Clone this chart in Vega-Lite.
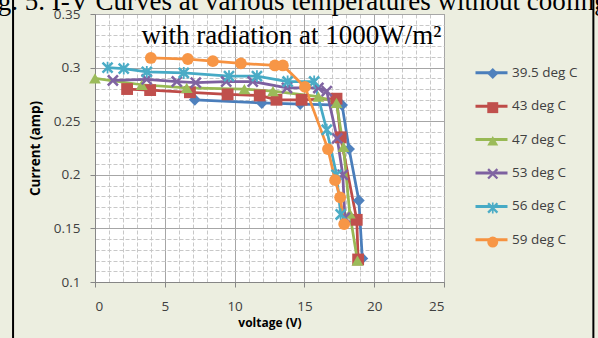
{
  "$schema": "https://vega.github.io/schema/vega-lite/v6.json",
  "width": 349,
  "height": 268,
  "autosize": {"type": "none"},
  "padding": {"left": 95, "top": 14, "right": 154, "bottom": 56},
  "background": "#ECEEE0",
  "view": {"stroke": "#8A8A8A", "fill": "white"},
  "title": {
    "text": "Fig. 5. I-V Curves at various temperatures without cooling",
    "subtitle": "with radiation at 1000W/m²",
    "font": "Liberation Serif",
    "fontSize": 27,
    "fontWeight": "normal",
    "color": "#000000",
    "subtitleFont": "Liberation Serif",
    "subtitleFontSize": 27,
    "subtitleColor": "#000000",
    "anchor": "middle",
    "dx": 22,
    "offset": -58,
    "subtitlePadding": 7
  },
  "data": {
    "values": [
      {"s": "39.5 deg C", "v": 7.15, "i": 0.270},
      {"s": "39.5 deg C", "v": 11.95, "i": 0.267},
      {"s": "39.5 deg C", "v": 14.7, "i": 0.266},
      {"s": "39.5 deg C", "v": 17.7, "i": 0.265},
      {"s": "39.5 deg C", "v": 18.2, "i": 0.224},
      {"s": "39.5 deg C", "v": 18.9, "i": 0.176},
      {"s": "39.5 deg C", "v": 19.15, "i": 0.122},
      {"s": "43 deg C", "v": 2.3, "i": 0.280},
      {"s": "43 deg C", "v": 3.95, "i": 0.279},
      {"s": "43 deg C", "v": 6.8, "i": 0.277},
      {"s": "43 deg C", "v": 9.5, "i": 0.275},
      {"s": "43 deg C", "v": 11.8, "i": 0.274},
      {"s": "43 deg C", "v": 13.0, "i": 0.270},
      {"s": "43 deg C", "v": 14.8, "i": 0.270},
      {"s": "43 deg C", "v": 17.3, "i": 0.271},
      {"s": "43 deg C", "v": 17.6, "i": 0.235},
      {"s": "43 deg C", "v": 18.75, "i": 0.158},
      {"s": "43 deg C", "v": 18.85, "i": 0.121},
      {"s": "47 deg C", "v": 0.0, "i": 0.290},
      {"s": "47 deg C", "v": 3.35, "i": 0.284},
      {"s": "47 deg C", "v": 6.57, "i": 0.281},
      {"s": "47 deg C", "v": 10.7, "i": 0.280},
      {"s": "47 deg C", "v": 12.75, "i": 0.278},
      {"s": "47 deg C", "v": 16.0, "i": 0.273},
      {"s": "47 deg C", "v": 17.3, "i": 0.267},
      {"s": "47 deg C", "v": 17.8, "i": 0.226},
      {"s": "47 deg C", "v": 18.25, "i": 0.164},
      {"s": "47 deg C", "v": 18.8, "i": 0.120},
      {"s": "53 deg C", "v": 1.28, "i": 0.288},
      {"s": "53 deg C", "v": 3.7, "i": 0.289},
      {"s": "53 deg C", "v": 5.86, "i": 0.287},
      {"s": "53 deg C", "v": 7.22, "i": 0.286},
      {"s": "53 deg C", "v": 9.4, "i": 0.287},
      {"s": "53 deg C", "v": 11.3, "i": 0.287},
      {"s": "53 deg C", "v": 13.75, "i": 0.281},
      {"s": "53 deg C", "v": 16.0, "i": 0.281},
      {"s": "53 deg C", "v": 16.6, "i": 0.278},
      {"s": "53 deg C", "v": 17.35, "i": 0.234},
      {"s": "53 deg C", "v": 17.75, "i": 0.200},
      {"s": "53 deg C", "v": 17.9, "i": 0.160},
      {"s": "56 deg C", "v": 0.9, "i": 0.300},
      {"s": "56 deg C", "v": 2.06, "i": 0.299},
      {"s": "56 deg C", "v": 3.71, "i": 0.296},
      {"s": "56 deg C", "v": 6.36, "i": 0.295},
      {"s": "56 deg C", "v": 9.6, "i": 0.292},
      {"s": "56 deg C", "v": 11.6, "i": 0.292},
      {"s": "56 deg C", "v": 13.8, "i": 0.287},
      {"s": "56 deg C", "v": 15.7, "i": 0.287},
      {"s": "56 deg C", "v": 16.6, "i": 0.242},
      {"s": "56 deg C", "v": 17.3, "i": 0.200},
      {"s": "56 deg C", "v": 17.6, "i": 0.163},
      {"s": "59 deg C", "v": 4.0, "i": 0.309},
      {"s": "59 deg C", "v": 6.65, "i": 0.308},
      {"s": "59 deg C", "v": 8.44, "i": 0.306},
      {"s": "59 deg C", "v": 10.45, "i": 0.304},
      {"s": "59 deg C", "v": 12.89, "i": 0.302},
      {"s": "59 deg C", "v": 13.46, "i": 0.302},
      {"s": "59 deg C", "v": 15.04, "i": 0.282},
      {"s": "59 deg C", "v": 16.69, "i": 0.224},
      {"s": "59 deg C", "v": 17.2, "i": 0.195},
      {"s": "59 deg C", "v": 17.56, "i": 0.179},
      {"s": "59 deg C", "v": 17.85, "i": 0.154}
    ]
  },
  "resolve": {"axis": {"x": "independent", "y": "independent"}},
  "layer": [
    {
      "mark": {"type": "line", "strokeWidth": 2.75},
      "encoding": {
        "x": {
          "field": "v", "type": "quantitative",
          "scale": {"domain": [0, 25], "nice": false, "zero": false},
          "axis": {
            "orient": "bottom",
            "values": [1,2,3,4,6,7,8,9,11,12,13,14,16,17,18,19,21,22,23,24],
            "grid": true, "gridColor": "#C8C8C8", "gridDash": [4, 2], "gridWidth": 1,
            "labels": false, "ticks": false, "domain": false, "title": null
          }
        },
        "y": {
          "field": "i", "type": "quantitative",
          "scale": {"domain": [0.1, 0.35], "nice": false, "zero": false},
          "axis": {
            "orient": "left",
            "values": [0.11,0.12,0.13,0.14,0.16,0.17,0.18,0.19,0.21,0.22,0.23,0.24,0.26,0.27,0.28,0.29,0.31,0.32,0.33,0.34],
            "grid": true, "gridColor": "#C8C8C8", "gridDash": [4, 2], "gridWidth": 1,
            "labels": false, "ticks": false, "domain": false, "title": null
          }
        },
        "color": {
          "field": "s", "type": "nominal",
          "scale": {"range": ["#4A7EBB", "#BE4B48", "#98B954", "#7D60A0", "#46AAC5", "#F69240"]},
          "legend": {
            "orient": "none", "legendX": 379, "legendY": 41.3, "title": null,
            "symbolType": "stroke", "symbolSize": 1024, "symbolStrokeWidth": 3,
            "labelFont": "Open Sans", "labelFontSize": 13.5, "labelColor": "#404040",
            "labelOffset": 3, "rowPadding": 9.4
          }
        }
      }
    },
    {
      "mark": {"type": "point", "filled": true, "opacity": 1, "size": 140},
      "encoding": {
        "x": {
          "field": "v", "type": "quantitative",
          "axis": {
            "orient": "bottom",
            "values": [0, 5, 10, 15, 20, 25],
            "grid": true, "gridColor": "#A6A6A6", "gridWidth": 1,
            "domainColor": "#868686", "tickColor": "#868686", "tickSize": 5,
            "labelFont": "Open Sans", "labelFontSize": 13.5, "labelColor": "#404040", "labelPadding": 12,
            "title": "voltage (V)", "titleFont": "Open Sans", "titleFontSize": 12, "titleFontWeight": "bold",
            "titleColor": "#000000", "titlePadding": 5
          }
        },
        "y": {
          "field": "i", "type": "quantitative",
          "axis": {
            "orient": "left",
            "values": [0.1, 0.15, 0.2, 0.25, 0.3, 0.35],
            "format": "~g",
            "grid": true, "gridColor": "#A6A6A6", "gridWidth": 1,
            "domainColor": "#868686", "tickColor": "#868686", "tickSize": 5,
            "labelFont": "Open Sans", "labelFontSize": 13.5, "labelColor": "#404040", "labelPadding": 10,
            "title": "Current (amp)", "titleFont": "Open Sans", "titleFontSize": 13.5, "titleFontWeight": "bold",
            "titleColor": "#000000", "titlePadding": 11
          }
        },
        "fill": {
          "field": "s", "type": "nominal",
          "scale": {
            "domain": ["39.5 deg C", "43 deg C", "47 deg C", "53 deg C", "56 deg C", "59 deg C"],
            "range": ["#4F81BD", "#C0504D", "#9BBB59", "#8064A2", "#4BACC6", "#F79646"]
          },
          "legend": {
            "orient": "none", "legendX": 391, "legendY": 52.8, "title": null,
            "symbolSize": 120, "labelExpr": "''",
            "labelFont": "Open Sans", "labelFontSize": 13.5, "rowPadding": 16.1
          }
        },
        "shape": {
          "field": "s", "type": "nominal",
          "scale": {
            "domain": ["39.5 deg C", "43 deg C", "47 deg C", "53 deg C", "56 deg C", "59 deg C"],
            "range": [
              "diamond", "square", "triangle-up",
              "M-1,-0.7L-0.7,-1L1,0.7L0.7,1Z M-1,0.7L0.7,-1L1,-0.7L-0.7,1Z",
              "M-1,-0.7L-0.7,-1L1,0.7L0.7,1Z M-1,0.7L0.7,-1L1,-0.7L-0.7,1Z M-0.15,-1L0.15,-1L0.15,1L-0.15,1Z",
              "circle"
            ]
          },
          "legend": {
            "orient": "none", "legendX": 391, "legendY": 52.8, "title": null,
            "symbolSize": 120, "labelExpr": "''",
            "labelFont": "Open Sans", "labelFontSize": 13.5, "rowPadding": 16.1
          }
        }
      }
    },
    {
      "data": {"values": [{"v": -5.87}, {"v": 35.7}]},
      "mark": {"type": "rule", "clip": false, "color": "#000000", "strokeWidth": 2},
      "encoding": {
        "x": {"field": "v", "type": "quantitative", "axis": null},
        "y": {"datum": 0.04, "axis": null},
        "y2": {"datum": 0.37}
      }
    }
  ]
}
